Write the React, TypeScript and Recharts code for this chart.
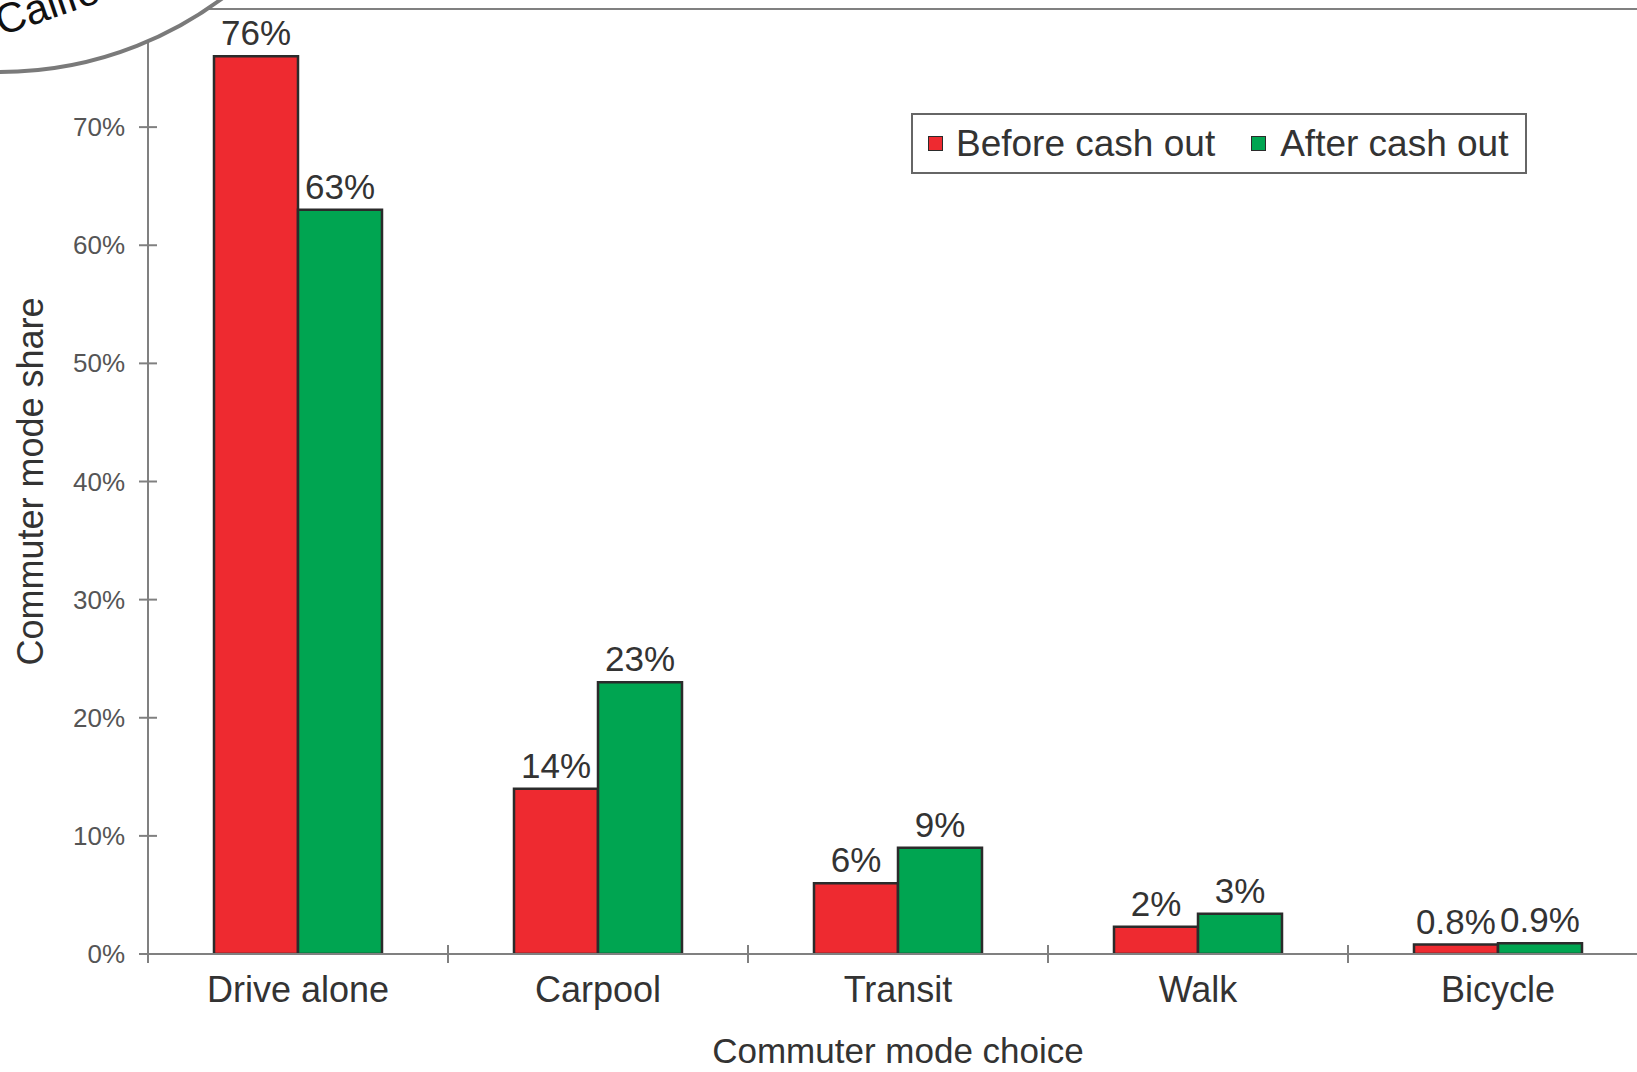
import React from 'react';
import { BarChart, Bar, XAxis, YAxis, ReferenceLine, Legend, LabelList } from 'recharts';

const modes = ['Drive alone', 'Carpool', 'Transit', 'Walk', 'Bicycle'];
const beforeShare = [76, 14, 6, 2.3, 0.8];
const afterShare = [63, 23, 9, 3.4, 0.9];
const beforeLabels = ['76%', '14%', '6%', '2%', '0.8%'];
const afterLabels = ['63%', '23%', '9%', '3%', '0.9%'];
const yTicks = [0, 10, 20, 30, 40, 50, 60, 70];

const RED = '#ee2a30';
const GREEN = '#00a551';
const EDGE = '#2b2b2b';
const AXIS = '#808080';
const FONT = '"Liberation Sans", Arial, Helvetica, sans-serif';

const data = modes.map((mode, i) => ({
  mode,
  before: beforeShare[i],
  after: afterShare[i],
  beforeLabel: beforeLabels[i],
  afterLabel: afterLabels[i],
}));

const YTick = (props: any) => {
  const { x, y, payload } = props;
  return (
    <g>
      <line x1={x - 9} x2={x + 9} y1={y} y2={y} stroke={AXIS} strokeWidth={2} />
      <text x={x - 23} y={y} dy={9} textAnchor="end" fontSize={26} fill="#555" fontFamily={FONT}>
        {payload.value}%
      </text>
    </g>
  );
};

// tick marks sit on the band edges, labels on the band centres
const XTick = (props: any) => {
  const { x, y, payload } = props;
  const left = x - (payload.offset ?? 0);
  return (
    <g>
      <line x1={left} x2={left} y1={y - 9} y2={y + 9} stroke={AXIS} strokeWidth={2} />
      <text x={x} y={y + 48} textAnchor="middle" fontSize={36} fill="#333" fontFamily={FONT}>
        {payload.value}
      </text>
    </g>
  );
};

const BarText = (props: any) => {
  const { x, y, width, value } = props;
  return (
    <text x={x + width / 2} y={y - 11} textAnchor="middle" fontSize={35} fill="#333" fontFamily={FONT}>
      {value}
    </text>
  );
};

const LegendBox = () => (
  <div
    style={{
      boxSizing: 'border-box',
      width: 616,
      height: 61,
      border: '2px solid #666',
      background: '#fff',
      display: 'flex',
      alignItems: 'center',
      paddingLeft: 15,
      fontFamily: FONT,
      fontSize: 37,
      lineHeight: 1,
      color: '#333',
    }}
  >
    <span style={{ width: 15, height: 15, background: RED, border: `1.5px solid ${EDGE}`, boxSizing: 'border-box' }} />
    <span style={{ marginLeft: 13 }}>Before cash out</span>
    <span
      style={{ width: 15, height: 15, background: GREEN, border: `1.5px solid ${EDGE}`, boxSizing: 'border-box', marginLeft: 36 }}
    />
    <span style={{ marginLeft: 14 }}>After cash out</span>
  </div>
);

export default function App() {
  return (
    <div
      style={{
        position: 'fixed',
        left: 0,
        top: 0,
        width: 1637,
        height: 1072,
        overflow: 'hidden',
        background: '#fff',
      }}
    >
      <BarChart
        width={1660}
        height={1072}
        data={data}
        margin={{ top: 9, right: 12, bottom: 0, left: 0 }}
        barCategoryGap="22%"
        barGap={0}
      >
        <XAxis
          dataKey="mode"
          height={118}
          tickLine={false}
          tickSize={0}
          tickMargin={0}
          axisLine={{ stroke: AXIS, strokeWidth: 2 }}
          tick={<XTick />}
          interval={0}
          label={(p: any) => {
            const vb = p.viewBox;
            return (
              <text x={vb.x + vb.width / 2} y={vb.y + 109} textAnchor="middle" fontSize={35} fill="#333" fontFamily={FONT}>
                Commuter mode choice
              </text>
            );
          }}
        />
        <YAxis
          width={148}
          domain={[0, 80]}
          ticks={yTicks}
          allowDataOverflow
          tickLine={false}
          tickSize={0}
          tickMargin={0}
          axisLine={{ stroke: AXIS, strokeWidth: 2 }}
          tick={<YTick />}
          label={(p: any) => {
            const vb = p.viewBox;
            const cx = vb.x + 43;
            const cy = vb.y + vb.height / 2;
            return (
              <text
                x={cx}
                y={cy}
                transform={`rotate(-90, ${cx}, ${cy})`}
                textAnchor="middle"
                fontSize={36}
                fill="#333"
                fontFamily={FONT}
              >
                Commuter mode share
              </text>
            );
          }}
        />
        <ReferenceLine y={80} stroke={AXIS} strokeWidth={2} />
        <Legend
          layout="horizontal"
          verticalAlign="middle"
          align="center"
          content={<LegendBox />}
          wrapperStyle={{ position: 'absolute', left: 911, top: 113, width: 'auto' }}
        />
        <Bar dataKey="before" fill={RED} stroke={EDGE} strokeWidth={2.5} isAnimationActive={false}>
          <LabelList dataKey="beforeLabel" content={<BarText />} />
        </Bar>
        <Bar dataKey="after" fill={GREEN} stroke={EDGE} strokeWidth={2.5} isAnimationActive={false}>
          <LabelList dataKey="afterLabel" content={<BarText />} />
        </Bar>
      </BarChart>
      {/* callout bubble cut off at the top-left corner */}
      <svg
        width={420}
        height={140}
        style={{ position: 'absolute', left: 0, top: 0, pointerEvents: 'none' }}
      >
        <circle cx={0} cy={-300} r={372} fill="#fff" stroke="#7a7a7a" strokeWidth={4} />
        <text x={1} y={36} transform="rotate(-19, 1, 36)" fontSize={42} fill="#111" fontFamily={FONT}>
          California
        </text>
      </svg>
    </div>
  );
}
